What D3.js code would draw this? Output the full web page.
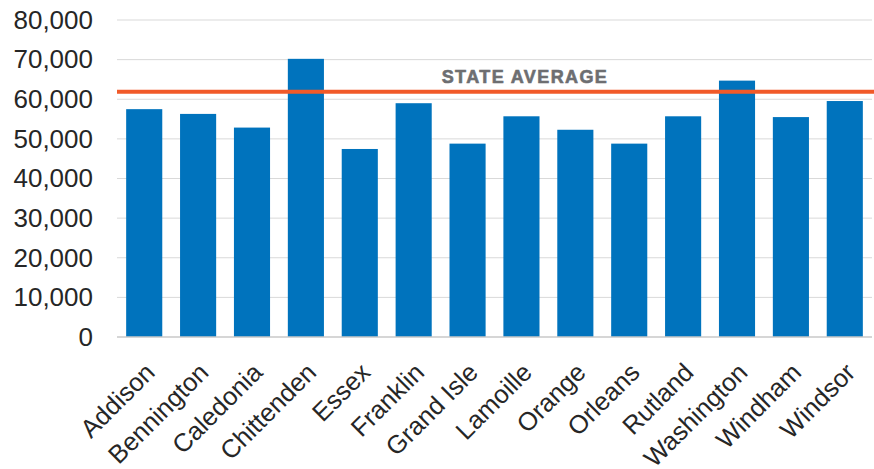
<!DOCTYPE html>
<html>
<head>
<meta charset="utf-8">
<script src="https://cdn.jsdelivr.net/npm/d3@7"></script>
<style>
  body { margin: 0; background: #fff; }
  svg { font-family: "Liberation Sans", Arial, sans-serif; }
</style>
</head>
<body>
<svg id="chart" width="874" height="469"></svg>
<script>
const counties = ['Addison', 'Bennington', 'Caledonia', 'Chittenden', 'Essex', 'Franklin', 'Grand Isle',
  'Lamoille', 'Orange', 'Orleans', 'Rutland', 'Washington', 'Windham', 'Windsor']
const values = [57500, 56300, 52850, 70200, 47450, 59000, 48800, 55700, 52300, 48800, 55700, 64700, 55500, 59550]
const stateAverage = 61900
const yTicks = [0, 10000, 20000, 30000, 40000, 50000, 60000, 70000, 80000]

const svg = d3.select('#chart')
const margin = {top: 20, right: 2, bottom: 132, left: 117}
const width = 874 - margin.left - margin.right
const height = 469 - margin.top - margin.bottom

const g = svg.append('g').attr('transform', `translate(${margin.left}, ${margin.top})`)

const x = d3.scaleBand().domain(counties).range([0, width]).paddingInner(0.33).paddingOuter(0.17)
const y = d3.scaleLinear().domain([0, 80000]).range([height, 0])

// gridlines
g.append('g')
  .selectAll('line')
  .data(yTicks.slice(1))
  .join('line')
  .attr('x1', 0)
  .attr('x2', width)
  .attr('y1', d => y(d))
  .attr('y2', d => y(d))
  .attr('stroke', '#d9d9d9')
  .attr('stroke-width', 1)

// y axis
const yAxis = g.append('g')
  .call(d3.axisLeft(y).tickValues(yTicks).tickFormat(d3.format(',')).tickSize(0).tickPadding(24))
yAxis.select('.domain').remove()
yAxis.selectAll('text').attr('font-size', 26).attr('fill', '#262626')

// bars
g.selectAll('rect.bar')
  .data(values)
  .join('rect')
  .attr('class', 'bar')
  .attr('x', (d, i) => x(counties[i]))
  .attr('width', x.bandwidth())
  .attr('y', d => y(d))
  .attr('height', d => height - y(d))
  .attr('fill', '#0073bd')

// baseline
g.append('line')
  .attr('x1', 0).attr('x2', width)
  .attr('y1', height).attr('y2', height)
  .attr('stroke', '#c8c8c8').attr('stroke-width', 1.5)

// x labels
g.append('g')
  .selectAll('text')
  .data(counties)
  .join('text')
  .attr('transform', d => `translate(${x(d) + x.bandwidth() / 2 + 12}, ${height + 37}) rotate(-45)`)
  .attr('text-anchor', 'end')
  .attr('font-size', 25.5)
  .attr('fill', '#262626')
  .text(d => d)

// state average line
g.append('line')
  .attr('x1', 0).attr('x2', width + margin.right)
  .attr('y1', y(stateAverage)).attr('y2', y(stateAverage))
  .attr('stroke', '#f15a29').attr('stroke-width', 4)

g.append('text')
  .attr('x', 408)
  .attr('y', y(stateAverage) - 9)
  .attr('text-anchor', 'middle')
  .attr('font-size', 18)
  .attr('font-weight', 'bold')
  .attr('letter-spacing', 1.4)
  .attr('fill', '#6d6e71')
  .attr('stroke', '#6d6e71')
  .attr('stroke-width', 0.6)
  .text('STATE AVERAGE')
</script>
</body>
</html>
